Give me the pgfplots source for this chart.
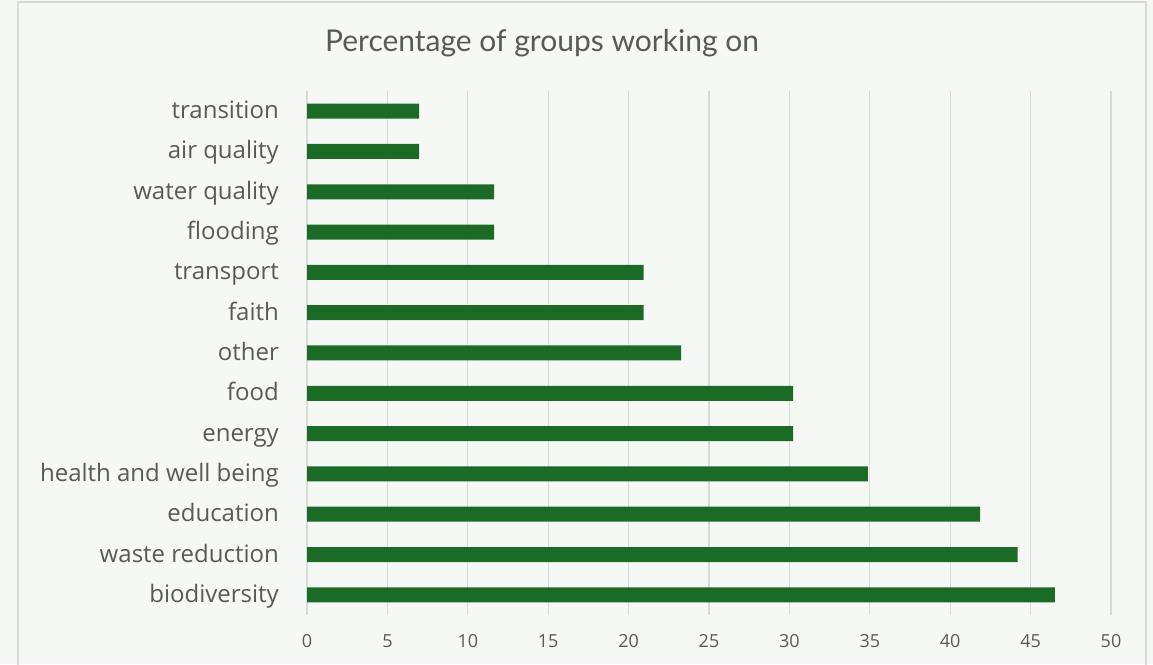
\documentclass[border=0pt]{standalone}
\usepackage{pgfplots}
\pgfplotsset{compat=1.18}
\usepackage{fontspec}
\setmainfont{Lato}
\newfontfamily\labfont{Open Sans}
\definecolor{bg}{HTML}{F6F8F5}
\definecolor{barc}{HTML}{1B6B27}
\definecolor{txt}{HTML}{595959}
\definecolor{gridc}{HTML}{D9D9D9}
\begin{document}
\begin{tikzpicture}[x=1pt,y=1pt]
\useasboundingbox (0,0) rectangle (1153,664);
\fill[bg] (0,0) rectangle (1153,664);
\draw[gridc, line width=1.5pt] (18,-5) -- (18,662) -- (1146,662) -- (1146,-5);
\node[txt, font=\fontsize{30}{36}\selectfont, anchor=base] at (542,612) {Percentage of groups working on};
\begin{axis}[
  at={(307pt,49pt)}, anchor=south west, scale only axis,
  width=804pt, height=524pt,
  xbar, bar width=15pt, bar shift=0pt,
  xmin=0, xmax=50, ymin=-0.5, ymax=12.5,
  xtick={0,5,...,50},
  ytick={0,...,12},
  yticklabels={biodiversity, waste reduction, education, health and well being, energy, {food\ }, other, faith, transport, flooding, water quality, {air quality\ }, transition},
  xmajorgrids, ymajorgrids=false,
  grid style={gridc, line width=1.2pt},
  axis line style={draw=none},
  major tick length=0pt,
  tick style={draw=none},
  /pgf/number format/assume math mode=true,
  yticklabel style={txt, font=\labfont\fontsize{24}{28}\selectfont, inner sep=0pt, anchor=base east, xshift=-28pt, yshift=-7.5pt},
  xticklabel style={txt, font=\labfont\fontsize{18}{20}\selectfont, inner sep=0pt, yshift=-19pt},
]
\addplot[fill=barc, draw=none] coordinates {
(46.51,0) (44.19,1) (41.86,2) (34.88,3) (30.23,4) (30.23,5) (23.26,6) (20.93,7) (20.93,8) (11.63,9) (11.63,10) (6.98,11) (6.98,12)
};
\end{axis}
\end{tikzpicture}
\end{document}
